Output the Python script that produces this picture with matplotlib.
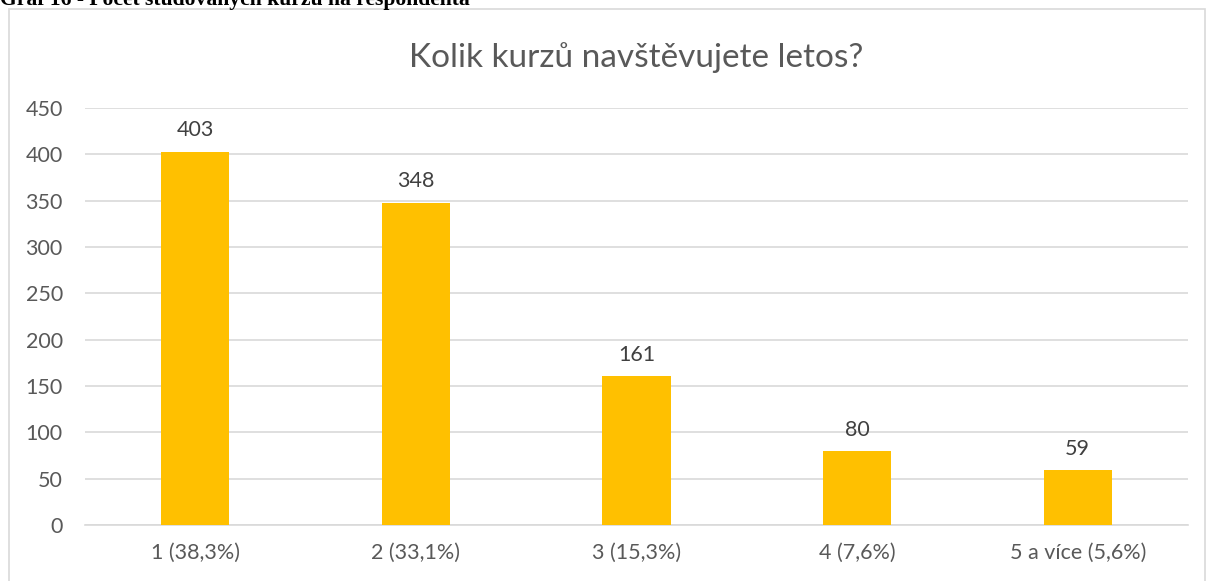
import matplotlib.pyplot as plt
from matplotlib.patches import Rectangle

categories = ['1 (38,3%)', '2 (33,1%)', '3 (15,3%)', '4 (7,6%)', '5 a více (5,6%)']
values = [403, 348, 161, 80, 59]
yticks = [0, 50, 100, 150, 200, 250, 300, 350, 400, 450]

W, H = 1207, 581
fig = plt.figure(figsize=(W / 100, H / 100), dpi=100)
plt.rcParams['font.family'] = ['Lato', 'DejaVu Sans']

# rámeček grafu
fig.patches.append(Rectangle((9 / W, -0.05), (1205 - 9) / W, 1 - 9 / H + 0.05,
                             transform=fig.transFigure, fill=False,
                             edgecolor='#d9d9d9', linewidth=1.2))

# popisek nad grafem (v originále oříznutý)
fig.text(0.0, 1 - 5 / H, 'Graf 16 - Počet studovaných kurzů na respondenta',
         family='Liberation Serif', weight='bold', fontsize=15.6,
         va='baseline', ha='left', color='black')

ax = fig.add_axes([85 / W, 1 - 525 / H, (1188 - 85) / W, (525 - 108) / H])
x = range(len(categories))
bars = ax.bar(x, values, width=0.31, color='#FFC000', zorder=3)
for b, v in zip(bars, values):
    ax.text(b.get_x() + b.get_width() / 2, v + 12, str(v), ha='center', va='bottom',
            fontsize=15.5, color='#404040')

ax.set_xlim(-0.5, len(categories) - 0.5)
ax.set_ylim(0, 450)
ax.set_yticks(yticks)
ax.set_xticks(list(x))
ax.set_xticklabels(categories)
ax.tick_params(axis='both', length=0, labelsize=15.5, labelcolor='#595959')
ax.tick_params(axis='y', pad=16)
ax.tick_params(axis='x', pad=13)
ax.grid(axis='y', color='#d9d9d9', linewidth=1.2, zorder=0)
for s in ['top', 'right', 'left']:
    ax.spines[s].set_visible(False)
ax.spines['bottom'].set_color('#d9d9d9')
ax.spines['bottom'].set_linewidth(1.2)

fig.text((85 + 1188) / 2 / W, 1 - 58 / H, 'Kolik kurzů navštěvujete letos?',
         ha='center', va='center', fontsize=24, color='#595959')

fig.savefig('out.png', dpi=100)
